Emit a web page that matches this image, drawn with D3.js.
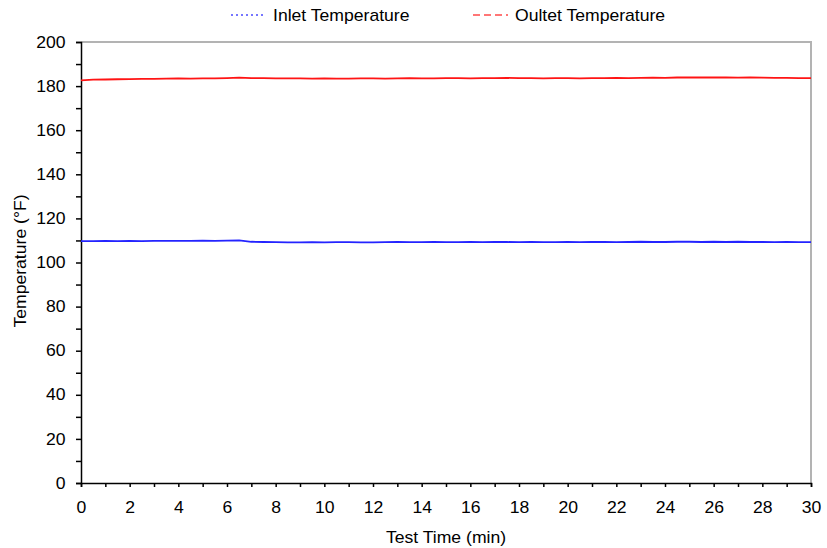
<!DOCTYPE html>
<html>
<head>
<meta charset="utf-8">
<script src="https://cdn.jsdelivr.net/npm/d3@7"></script>
<style>
  body { margin: 0; background: #fff; }
  text { font-family: Arial, "Liberation Sans", sans-serif; }
</style>
</head>
<body>
<svg id="chart" width="827" height="548"></svg>
<script>
// readings every 0.5 min, 0 .. 30
timeMin = d3.range(0, 30.01, 0.5);

inletTemp = [
  109.7, 109.7, 109.8, 109.7, 109.8, 109.7, 109.8, 109.8, 109.8, 109.8,
  109.9, 109.8, 109.9, 110.0, 109.4, 109.3, 109.2, 109.1, 109.1, 109.2,
  109.1, 109.2, 109.2, 109.1, 109.1, 109.2, 109.3, 109.2, 109.2, 109.3,
  109.2, 109.2, 109.3, 109.2, 109.3, 109.3, 109.2, 109.3, 109.2, 109.2,
  109.3, 109.2, 109.3, 109.3, 109.2, 109.3, 109.4, 109.3, 109.3, 109.4,
  109.4, 109.3, 109.4, 109.3, 109.4, 109.3, 109.3, 109.2, 109.3, 109.2,
  109.2
];

outletTemp = [
  182.6, 182.9, 183.0, 183.1, 183.2, 183.3, 183.3, 183.4, 183.5, 183.4,
  183.5, 183.5, 183.6, 183.8, 183.6, 183.6, 183.5, 183.5, 183.5, 183.4,
  183.5, 183.4, 183.4, 183.5, 183.5, 183.4, 183.5, 183.6, 183.5, 183.5,
  183.6, 183.6, 183.5, 183.6, 183.6, 183.7, 183.6, 183.6, 183.5, 183.6,
  183.6, 183.5, 183.6, 183.6, 183.7, 183.6, 183.7, 183.8, 183.7, 183.9,
  183.9, 184.0, 183.9, 183.9, 183.8, 183.9, 183.8, 183.7, 183.7, 183.6,
  183.6
];

xTicks = d3.range(0, 31, 2);
yTicks = d3.range(0, 201, 20);

margin = {top: 42, right: 16, bottom: 65, left: 81};
fontSize = 16;

let svg = d3.select("#chart");
let width = 827 - margin.left - margin.right;
let height = 548 - margin.top - margin.bottom;

let g = svg.append("g")
  .attr("transform", "translate(" + margin.left + "," + margin.top + ")");

let x = d3.scaleLinear().domain([0, 30]).range([0, width]);
let y = d3.scaleLinear().domain([0, 200]).range([height, 0]);

// gray frame on top and right
g.append("path")
  .attr("d", "M0,0H" + width + "V" + height)
  .attr("fill", "none")
  .attr("stroke", "#b3b3b3")
  .attr("stroke-width", 2);

// minor ticks
let xAxisMinor = d3.axisBottom(x).tickValues(d3.range(1, 30, 2)).tickSize(4).tickFormat("");
let yAxisMinor = d3.axisLeft(y).tickValues(d3.range(10, 200, 20)).tickSize(5).tickFormat("");

g.append("g").attr("class", "minor")
  .attr("transform", "translate(0," + height + ")")
  .call(xAxisMinor);
g.append("g").attr("class", "minor")
  .call(yAxisMinor);

let xAxis = d3.axisBottom(x).tickValues(xTicks).tickSize(4).tickPadding(15).tickFormat(d3.format("d"));
let yAxis = d3.axisLeft(y).tickValues(yTicks).tickSize(5).tickPadding(9).tickFormat(d3.format("d"));

g.append("g").attr("class", "xaxis")
  .attr("transform", "translate(0," + height + ")")
  .call(xAxis);
g.append("g").attr("class", "yaxis")
  .call(yAxis);

g.selectAll(".minor .domain").remove();
g.selectAll(".xaxis, .yaxis, .minor").selectAll("line, path")
  .attr("stroke", "#000").attr("stroke-width", 1.5);
g.selectAll(".xaxis text, .yaxis text")
  .attr("font-size", fontSize).attr("fill", "#000")
  .attr("transform", "scale(1.1,1)");

let line = d3.line()
  .x(function(d, i) { return x(timeMin[i]); })
  .y(function(d) { return y(d); });

g.append("path")
  .datum(inletTemp)
  .attr("d", line)
  .attr("fill", "none")
  .attr("stroke", "#2424ff")
  .attr("stroke-width", 1.8);

g.append("path")
  .datum(outletTemp)
  .attr("d", line)
  .attr("fill", "none")
  .attr("stroke", "#ff1414")
  .attr("stroke-width", 1.8);

// axis titles
svg.append("text")
  .attr("transform", "translate(" + (margin.left + width / 2) + ",543) scale(1.1,1)")
  .attr("text-anchor", "middle")
  .attr("font-size", fontSize)
  .text("Test Time (min)");

svg.append("text")
  .attr("transform", "translate(26,261) rotate(-90) scale(1.1,1)")
  .attr("text-anchor", "middle")
  .attr("font-size", fontSize)
  .text("Temperature (°F)");

// legend
let legend = [
  {label: "Inlet Temperature", color: "#4a4aff", dash: "2,3", x: 231},
  {label: "Oultet Temperature", color: "#ff4a4a", dash: "7,4", x: 473}
];

let lg = svg.append("g").selectAll("g")
  .data(legend)
  .enter().append("g")
  .attr("transform", function(d) { return "translate(" + d.x + ",15)"; });

lg.append("line")
  .attr("x1", 0).attr("x2", 35)
  .attr("stroke", function(d) { return d.color; })
  .attr("stroke-width", 1.5)
  .attr("stroke-dasharray", function(d) { return d.dash; });

lg.append("text")
  .attr("transform", "translate(42,6) scale(1.1,1)")
  .attr("font-size", fontSize)
  .text(function(d) { return d.label; });
</script>
</body>
</html>
